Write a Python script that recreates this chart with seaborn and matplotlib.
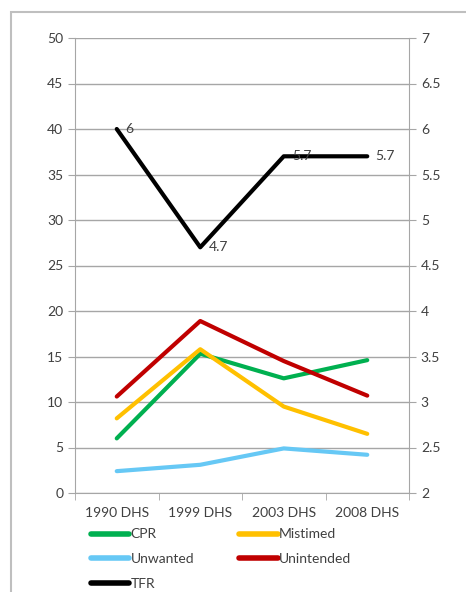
import matplotlib.pyplot as plt
import matplotlib.patches as mpatches
import numpy as np
import pandas as pd
import seaborn as sns

surveys = ['1990 DHS', '1999 DHS', '2003 DHS', '2008 DHS']
cpr = [6.0, 15.3, 12.6, 14.6]
mistimed = [8.2, 15.8, 9.5, 6.5]
unwanted = [2.4, 3.1, 4.9, 4.2]
unintended = [10.6, 18.9, 14.5, 10.7]
tfr = [6, 4.7, 5.7, 5.7]

colors = {'CPR': '#00B050', 'Mistimed': '#FFC000', 'Unwanted': '#66C8F5',
          'Unintended': '#C00000', 'TFR': '#000000'}

sns.set_style('white')
plt.rcParams['font.family'] = ['Lato', 'DejaVu Sans']

pos = np.arange(len(surveys))
left = pd.DataFrame({
    'x': np.tile(pos, 4),
    'value': cpr + mistimed + unwanted + unintended,
    'series': np.repeat(['CPR', 'Mistimed', 'Unwanted', 'Unintended'], len(surveys)),
})
right = pd.DataFrame({'x': pos, 'value': tfr})

fig = plt.figure(figsize=(4.66, 5.92), dpi=100)
ax = fig.add_axes([75/466, 1-493/592, (409-75)/466, (493-38)/592])

sns.lineplot(data=left, x='x', y='value', hue='series', palette=colors,
             linewidth=3.0, legend=False, ax=ax)
ax2 = ax.twinx()
sns.lineplot(data=right, x='x', y='value', color=colors['TFR'],
             linewidth=3.0, legend=False, ax=ax2)
for xi, v in zip(pos, tfr):
    ax2.annotate(f'{v:g}', (xi, v), xytext=(6, 0), textcoords='offset points',
                 ha='left', va='center', fontsize=10, color='#404040')

gray = '#A6A6A6'
ax.set_ylim(0, 50)
ax.set_yticks(range(0, 51, 5))
ax2.set_ylim(2, 7)
ax2.set_yticks(np.arange(2, 7.01, 0.5))
ax2.set_yticklabels([f'{t:g}' for t in np.arange(2, 7.01, 0.5)])
ax.set_xlim(-0.5, 3.5)
ax.set_xticks(pos)
ax.set_xticklabels(surveys)
ax.set_xticks(np.arange(-0.5, 3.6, 1), minor=True)
ax.grid(axis='y', color=gray, linewidth=1)
ax.set_xlabel('')
ax.set_ylabel('')
ax2.set_ylabel('')

for a in (ax, ax2):
    for s in a.spines.values():
        s.set_visible(False)
ax.spines['left'].set_visible(True)
ax.spines['left'].set_color(gray)
ax.spines['bottom'].set_visible(True)
ax.spines['bottom'].set_color(gray)
ax2.spines['right'].set_visible(True)
ax2.spines['right'].set_color(gray)

ax.tick_params(axis='x', which='major', length=0, labelsize=10, labelcolor='#404040', pad=10)
ax.tick_params(axis='x', which='minor', length=5, color=gray, direction='out', bottom=True)
ax.tick_params(axis='y', length=5, color=gray, labelsize=10, labelcolor='#404040', left=True)
ax2.tick_params(axis='y', length=5, color=gray, labelsize=10, labelcolor='#404040', right=True)

# legend filled column by column, so order gives rows CPR/Mistimed, Unwanted/Unintended, TFR
order = ['CPR', 'Unwanted', 'TFR', 'Mistimed', 'Unintended']
handles = [plt.Line2D([], [], color=colors[k], linewidth=4, solid_capstyle='round')
           for k in order]
fig.legend(handles, order, ncol=2, loc='upper left', bbox_to_anchor=(78/466, 1-516/592),
           frameon=False, fontsize=10, handlelength=2.8, handletextpad=0.1,
           columnspacing=3.2, labelspacing=0.9, labelcolor='#404040')

fig.patches.append(mpatches.Rectangle((11/466, -0.01), 1.0, 1-12/592 + 0.01,
                                      transform=fig.transFigure, fill=False,
                                      edgecolor='#BFBFBF', linewidth=1.5))

fig.savefig('out.png', dpi=100)
